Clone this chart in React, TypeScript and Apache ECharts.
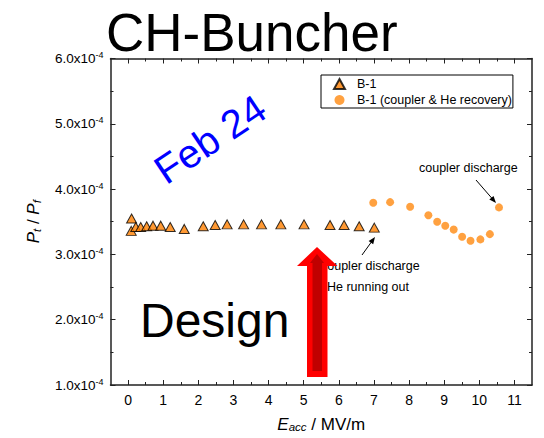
import React, { useEffect, useRef } from "react";
import * as echarts from "echarts";

const FONT = '"Liberation Sans", Arial, Helvetica, sans-serif';

const xTicks = [0, 1, 2, 3, 4, 5, 6, 7, 8, 9, 10, 11];
const xMinorTicks = [0.5, 1.5, 2.5, 3.5, 4.5, 5.5, 6.5, 7.5, 8.5, 9.5, 10.5];

const b1Eacc = [0.1, 0.09, 0.22, 0.36, 0.53, 0.71, 0.93, 1.2, 1.6, 2.14, 2.48, 2.82, 3.29, 3.8, 4.35, 5.01, 5.75, 6.15, 6.58, 7.01];
const b1Ratio = [3.55e-4, 3.36e-4, 3.42e-4, 3.42e-4, 3.43e-4, 3.44e-4, 3.44e-4, 3.42e-4, 3.39e-4, 3.43e-4, 3.45e-4, 3.46e-4, 3.46e-4, 3.46e-4, 3.46e-4, 3.46e-4, 3.45e-4, 3.45e-4, 3.43e-4, 3.41e-4];

const recEacc = [6.98, 7.46, 8.03, 8.55, 8.8, 9.03, 9.27, 9.51, 9.75, 10.03, 10.3, 10.56];
const recRatio = [3.79e-4, 3.8e-4, 3.73e-4, 3.6e-4, 3.5e-4, 3.44e-4, 3.38e-4, 3.27e-4, 3.21e-4, 3.23e-4, 3.31e-4, 3.72e-4];

const seriesNames = ["B-1", "B-1 (coupler & He recovery)"];

function arrowHead(x1: number, y1: number, x2: number, y2: number, len: number, half: number) {
  const dx = x2 - x1;
  const dy = y2 - y1;
  const d = Math.sqrt(dx * dx + dy * dy);
  const ux = dx / d;
  const uy = dy / d;
  const bx = x2 - ux * len;
  const by = y2 - uy * len;
  return [
    [x2, y2],
    [bx - uy * half, by + ux * half],
    [bx + uy * half, by - ux * half],
  ];
}

function blackArrow(x1: number, y1: number, x2: number, y2: number) {
  const head = arrowHead(x1, y1, x2, y2, 7, 2.8);
  const dx = x2 - x1;
  const dy = y2 - y1;
  const d = Math.sqrt(dx * dx + dy * dy);
  return [
    {
      type: "line",
      shape: { x1, y1, x2: x2 - (dx / d) * 5, y2: y2 - (dy / d) * 5 },
      style: { stroke: "#000", lineWidth: 1 },
    },
    { type: "polygon", shape: { points: head }, style: { fill: "#000" } },
  ];
}

export default function App() {
  const ref = useRef<HTMLDivElement>(null);
  useEffect(() => {
    const chart = echarts.init(ref.current!, null, { renderer: "svg" });
    const axisLineStyle = { color: "#222", width: 1.5 };
    const xBase = {
      type: "value",
      min: -0.5,
      max: 11.5,
      splitLine: { show: false },
    };
    const nameRich = {
      i: { fontSize: 17, fontStyle: "italic", fontFamily: FONT, color: "#000" },
      s: { fontSize: 11.5, fontStyle: "italic", fontFamily: FONT, color: "#000", verticalAlign: "bottom", padding: [6, 0, 0, 0] },
      n: { fontSize: 17, fontFamily: FONT, color: "#000" },
    };
    chart.setOption({
      animation: false,
      backgroundColor: "#fff",
      textStyle: { fontFamily: FONT },
      grid: { left: 110.5, right: 12, top: 58.5, bottom: 51.5, containLabel: false },
      legend: {
        show: true,
        orient: "vertical",
        left: 321,
        top: 75,
        data: seriesNames,
        itemWidth: 11,
        itemHeight: 10,
        itemGap: 2,
        padding: [2, 1, 1, 12],
        borderColor: "#000",
        borderWidth: 1,
        borderRadius: 0,
        textStyle: { fontSize: 12.5, color: "#000", fontFamily: FONT, lineHeight: 14, padding: [0, 0, 0, 7] },
      },
      xAxis: [
        {
          ...xBase,
          position: "bottom",
          axisLine: { show: true, onZero: false, lineStyle: axisLineStyle },
          axisTick: { show: true, inside: true, length: 5, customValues: xTicks, lineStyle: { color: "#222", width: 1 } },
          axisLabel: { show: true, customValues: xTicks, fontSize: 14, color: "#000", margin: 8, fontFamily: FONT },
          name: "{i|E}{s|acc}{n| / MV/m}",
          nameLocation: "middle",
          nameGap: 30,
          nameTextStyle: { rich: nameRich },
        },
        {
          ...xBase,
          position: "bottom",
          axisLine: { show: false, onZero: false },
          axisTick: { show: true, inside: true, length: 3, customValues: xMinorTicks, lineStyle: { color: "#222", width: 1 } },
          axisLabel: { show: false },
        },
        {
          ...xBase,
          position: "top",
          axisLine: { show: true, onZero: false, lineStyle: axisLineStyle },
          axisTick: { show: true, inside: true, length: 5, customValues: xTicks, lineStyle: { color: "#222", width: 1 } },
          axisLabel: { show: false },
        },
        {
          ...xBase,
          position: "top",
          axisLine: { show: false, onZero: false },
          axisTick: { show: true, inside: true, length: 3, customValues: xMinorTicks, lineStyle: { color: "#222", width: 1 } },
          axisLabel: { show: false },
        },
      ],
      yAxis: [
        {
          type: "value",
          min: 1e-4,
          max: 6e-4,
          interval: 1e-4,
          position: "left",
          splitLine: { show: false },
          axisLine: { show: true, onZero: false, lineStyle: axisLineStyle },
          axisTick: { show: true, inside: true, length: 5, lineStyle: { color: "#222", width: 1 } },
          minorTick: { show: true, splitNumber: 2, length: 3, lineStyle: { color: "#222", width: 1 } },
          axisLabel: {
            show: true,
            margin: 7,
            formatter: (v: number) => `{n|${(v * 1e4).toFixed(1)}x10}{s|-4}`,
            rich: {
              n: { fontSize: 13.5, color: "#000", fontFamily: FONT, lineHeight: 16 },
              s: { fontSize: 9, color: "#000", fontFamily: FONT, verticalAlign: "top", lineHeight: 9 },
            },
          },
          name: "{i|P}{s|t}{n| / }{i|P}{s|f}",
          nameLocation: "middle",
          nameGap: 68,
          nameTextStyle: { rich: nameRich },
        },
        {
          type: "value",
          min: 1e-4,
          max: 6e-4,
          interval: 1e-4,
          position: "right",
          splitLine: { show: false },
          axisLine: { show: true, onZero: false, lineStyle: axisLineStyle },
          axisTick: { show: true, inside: true, length: 5, lineStyle: { color: "#222", width: 1 } },
          minorTick: { show: true, splitNumber: 2, length: 3, lineStyle: { color: "#222", width: 1 } },
          axisLabel: { show: false },
        },
      ],
      series: [
        {
          name: seriesNames[0],
          type: "scatter",
          xAxisIndex: 0,
          yAxisIndex: 0,
          symbol: "triangle",
          symbolSize: [10, 9],
          itemStyle: { color: "#ff8000", borderColor: "#000", borderWidth: 1 },
          data: b1Eacc.map((x, i) => [x, b1Ratio[i]]),
          z: 3,
        },
        {
          name: seriesNames[1],
          type: "scatter",
          xAxisIndex: 0,
          yAxisIndex: 0,
          symbol: "circle",
          symbolSize: 8,
          itemStyle: { color: "#ff8a10" },
          data: recEacc.map((x, i) => [x, recRatio[i]]),
          z: 3,
        },
      ],
      graphic: [
        {
          type: "text",
          x: 106,
          y: 32,
          style: { text: "CH-Buncher", font: `53px ${FONT}`, fill: "#000", align: "left", verticalAlign: "middle" },
        },
        {
          type: "text",
          x: 210,
          y: 139,
          rotation: (34 * Math.PI) / 180,
          style: { text: "Feb 24", font: `40px ${FONT}`, fill: "#0000ff", align: "center", verticalAlign: "middle" },
        },
        {
          type: "text",
          x: 140,
          y: 320,
          style: { text: "Design", font: `48px ${FONT}`, fill: "#000", align: "left", verticalAlign: "middle" },
        },
        {
          type: "text",
          x: 419,
          y: 168,
          style: { text: "coupler discharge", font: `12.5px ${FONT}`, fill: "#000", align: "left", verticalAlign: "middle" },
        },
        {
          type: "text",
          x: 321,
          y: 266,
          style: { text: "coupler discharge", font: `12.5px ${FONT}`, fill: "#000", align: "left", verticalAlign: "middle" },
        },
        {
          type: "text",
          x: 327,
          y: 287,
          style: { text: "He running out", font: `12.5px ${FONT}`, fill: "#000", align: "left", verticalAlign: "middle" },
        },
        ...blackArrow(476, 180, 496, 203),
        ...blackArrow(362, 255, 375, 237),
        {
          type: "polygon",
          shape: {
            points: [
              [317, 247],
              [337.5, 266],
              [327.5, 266],
              [327.5, 377],
              [307, 377],
              [307, 266],
              [297, 266],
            ],
          },
          style: { fill: "#ff0000" },
        },
        {
          type: "polygon",
          shape: {
            points: [
              [317, 254],
              [324, 263],
              [322, 263],
              [322, 371],
              [312.5, 371],
              [312.5, 263],
              [310, 263],
            ],
          },
          style: { fill: "#c00000" },
        },
      ],
    });
    return () => chart.dispose();
  }, []);
  return <div ref={ref} style={{ position: "fixed", left: 0, top: 0, width: 544, height: 438 }} />;
}
